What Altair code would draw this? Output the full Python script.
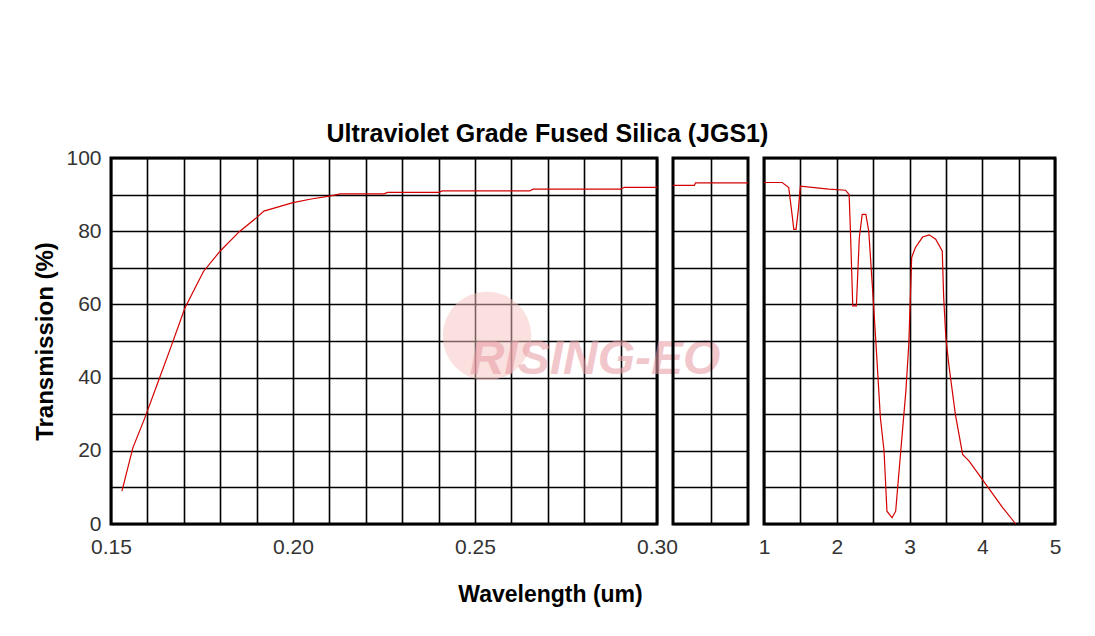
import altair as alt
import pandas as pd

# ---- data ----
uv_wl = [0.153, 0.156, 0.1593, 0.163, 0.1667, 0.1703, 0.1754, 0.18, 0.1854, 0.19,
         0.192, 0.2, 0.205, 0.21, 0.213, 0.225, 0.226, 0.24, 0.241, 0.265, 0.266,
         0.29, 0.291, 0.30]
uv_t = [9.0, 20.8, 29.0, 39.0, 49.0, 59.0, 69.0, 74.6, 80.0, 83.7,
        85.5, 87.8, 88.8, 89.6, 90.2, 90.2, 90.6, 90.6, 91.0, 91.0, 91.5,
        91.5, 92.0, 92.0]

mid_wl = [0.30, 0.50, 0.51, 1.00]
mid_t = [92.5, 92.5, 93.2, 93.2]

ir_wl = [1.0, 1.25, 1.34, 1.38, 1.41, 1.44, 1.47, 1.49, 1.50, 1.89, 2.12, 2.17,
         2.19, 2.22, 2.27, 2.31, 2.35, 2.40, 2.44, 2.50, 2.54, 2.60, 2.65, 2.69,
         2.76, 2.81, 2.88, 2.95, 2.99, 3.03, 3.08, 3.18, 3.27, 3.36, 3.45, 3.47,
         3.50, 3.54, 3.63, 3.73, 3.82, 4.05, 4.28, 4.46]
ir_t = [93.3, 93.3, 91.9, 85.5, 80.5, 80.5, 85.5, 90.0, 92.3, 91.5, 91.2, 90.0,
        79.0, 59.6, 59.6, 78.2, 84.6, 84.6, 80.0, 61.8, 49.0, 29.0, 20.0, 3.5,
        1.7, 3.5, 20.0, 36.3, 49.0, 72.8, 75.5, 78.4, 79.0, 77.8, 74.6, 61.8,
        50.9, 43.6, 30.0, 19.0, 17.2, 10.8, 4.5, 0.0]

y_ticks = [0, 10, 20, 30, 40, 50, 60, 70, 80, 90, 100]
uv_ticks = [round(0.15 + 0.01 * i, 2) for i in range(16)]
mid_ticks = [0.65]
ir_ticks = [1 + 0.5 * i for i in range(9)]

title_text = "Ultraviolet Grade Fused Silica (JGS1)"
x_title = "Wavelength (um)"
y_title = "Transmission (%)"
watermark = "RISING-EO"

FONT = "Liberation Sans"
LINE = "#d40000"

df_uv = pd.DataFrame({"wl": uv_wl, "t": uv_t})
df_mid = pd.DataFrame({"wl": mid_wl, "t": mid_t})
df_ir = pd.DataFrame({"wl": ir_wl, "t": ir_t})

y_scale = alt.Scale(domain=[0, 100], nice=False, zero=True)

grid_y = alt.Axis(values=y_ticks, labels=False, title=None, grid=True)

# Panel 1 (UV)
uv_line = alt.Chart(df_uv).mark_line(color=LINE, strokeWidth=1.2).encode(
    x=alt.X("wl:Q", scale=alt.Scale(domain=[0.15, 0.30], nice=False, zero=False),
            axis=alt.Axis(values=uv_ticks,
                          labelExpr="round(datum.value*100) % 5 == 0 ? format(datum.value, '.2f') : ''",
                          title=x_title, titleX=439, titlePadding=26, titleFontSize=23,
                          labelFlush=False, labelPadding=12)),
    y=alt.Y("t:Q", scale=y_scale,
            axis=alt.Axis(values=y_ticks,
                          labelExpr="datum.value % 20 == 0 ? datum.value : ''",
                          title=y_title, labelPadding=10, titlePadding=8,
                          titleFontSize=24)),
)
sun = alt.Chart(pd.DataFrame({"k": [watermark]})).mark_circle(
    color="#f5c2c0", opacity=0.5, size=7850
).encode(x=alt.value(376), y=alt.value(178))
wm = alt.Chart(pd.DataFrame({"k": [watermark]})).mark_text(
    color="#e89aa4", opacity=0.55, fontSize=48, fontWeight="bold",
    fontStyle="italic", font=FONT
).encode(text="k:N", x=alt.value(484), y=alt.value(202))

panel1 = alt.layer(sun, wm, uv_line).properties(width=546, height=366)

# Panel 2 (mid)
panel2 = alt.Chart(df_mid).mark_line(color=LINE, strokeWidth=1.2).encode(
    x=alt.X("wl:Q", scale=alt.Scale(domain=[0.30, 1.0], nice=False, zero=False),
            axis=alt.Axis(values=mid_ticks, labels=False, title=None)),
    y=alt.Y("t:Q", scale=y_scale, axis=grid_y),
).properties(width=75, height=366)

# Panel 3 (IR)
panel3 = alt.Chart(df_ir).mark_line(color=LINE, strokeWidth=1.2).encode(
    x=alt.X("wl:Q", scale=alt.Scale(domain=[1, 5], nice=False, zero=False),
            axis=alt.Axis(values=ir_ticks,
                          labelExpr="datum.value % 1 == 0 ? format(datum.value, 'd') : ''",
                          title=None, labelFlush=False, labelPadding=12)),
    y=alt.Y("t:Q", scale=y_scale, axis=grid_y),
).properties(width=291, height=366)

chart = alt.hconcat(panel1, panel2, panel3, spacing=16, bounds="flush").properties(
    title=alt.TitleParams(title_text, font=FONT, fontSize=25, fontWeight="bold",
                          color="black", anchor="middle", offset=-1),
    padding={"left": 24, "top": 113, "right": 20, "bottom": 10},
    background="white",
).configure_view(
    stroke="black", strokeWidth=3
).configure_axis(
    grid=True, gridColor="black", gridWidth=1.6, gridOpacity=1,
    domain=False, ticks=False,
    labelFont=FONT, labelFontSize=21, labelColor="#333333",
    titleFont=FONT, titleFontSize=21, titleFontWeight="bold", titleColor="black",
)

chart.save("out.html", embed_options={"renderer": "svg", "actions": False})
